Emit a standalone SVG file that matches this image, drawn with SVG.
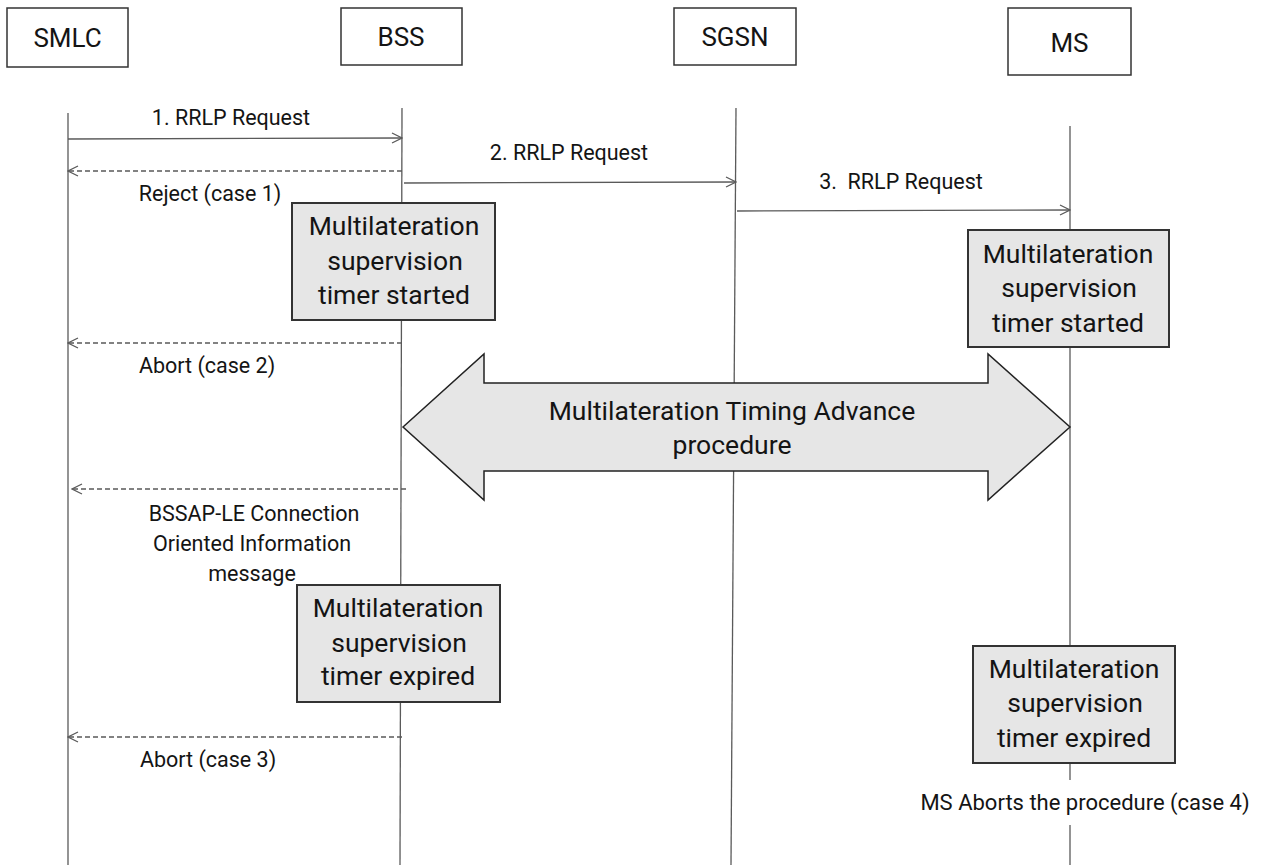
<svg xmlns="http://www.w3.org/2000/svg" width="1262" height="865" viewBox="0 0 1262 865">
<style>
text{font-family:Roboto,"Liberation Sans",sans-serif;fill:#141414;text-anchor:middle}
.hdr{font-size:26px}
.lbl{font-size:21.5px}
.box{font-size:26.5px}
.head{fill:#fff;stroke:#333;stroke-width:1.5}
.timer{fill:#e6e6e6;stroke:#333;stroke-width:2}
.life{stroke:#5a5a5a;stroke-width:1.3;fill:none}
.msg{stroke:#5a5a5a;stroke-width:1.3;fill:none;marker-end:url(#arr)}
.dash{stroke-dasharray:5,3}
</style>
<defs>
<marker id="arr" markerUnits="userSpaceOnUse" markerWidth="12" markerHeight="12" refX="11" refY="6" orient="auto">
<path d="M1,1 L11,6 L1,11" fill="none" stroke="#5a5a5a" stroke-width="1.3"/>
</marker>
</defs>
<rect width="1262" height="865" fill="#fff"/>

<g id="lifelines">
<line class="life" x1="68" y1="113" x2="68" y2="865"/>
<line class="life" x1="402" y1="108" x2="400" y2="865"/>
<line class="life" x1="736" y1="108" x2="731" y2="865"/>
<line class="life" x1="1070" y1="126" x2="1070" y2="780"/>
<line class="life" x1="1070" y1="825" x2="1070" y2="865"/>
</g>

<g id="SMLC"><rect class="head" x="7" y="8" width="121" height="59"/><text class="hdr" x="67.5" y="47">SMLC</text></g>
<g id="BSS"><rect class="head" x="341" y="8" width="121" height="57"/><text class="hdr" x="401" y="46">BSS</text></g>
<g id="SGSN"><rect class="head" x="674" y="8" width="122" height="57"/><text class="hdr" x="735" y="46">SGSN</text></g>
<g id="MS"><rect class="head" x="1008" y="8" width="123" height="67"/><text class="hdr" x="1069.5" y="52">MS</text></g>

<g id="connectors">
<line class="msg" x1="68" y1="139" x2="402" y2="138"/>
<line class="msg dash" x1="402" y1="171" x2="68" y2="171"/>
<line class="msg" x1="404" y1="183" x2="736" y2="182"/>
<line class="msg" x1="737" y1="211" x2="1070" y2="210"/>
<line class="msg dash" x1="402" y1="343" x2="68" y2="343"/>
<line class="msg dash" x1="406" y1="489" x2="72" y2="489"/>
<line class="msg dash" x1="402" y1="737" x2="68" y2="737"/>
</g>

<g id="labels">
<text class="lbl" x="231" y="125">1. RRLP Request</text>
<text class="lbl" x="210" y="201">Reject (case 1)</text>
<text class="lbl" x="569" y="160">2. RRLP Request</text>
<text class="lbl" x="901" y="189" style="white-space:pre">3.  RRLP Request</text>
<text class="lbl" x="207" y="373">Abort (case 2)</text>
<text class="lbl" x="254" y="521">BSSAP-LE Connection</text>
<text class="lbl" x="252" y="551">Oriented Information</text>
<text class="lbl" x="252" y="581">message</text>
<text class="lbl" x="208" y="767">Abort (case 3)</text>
<text class="lbl" x="1085" y="810" style="font-size:22px">MS Aborts the procedure (case 4)</text>
</g>

<g id="bss-timer-started">
<rect class="timer" x="292" y="203" width="203" height="117"/>
<text class="box" x="394" y="235">Multilateration</text>
<text class="box" x="395" y="270">supervision</text>
<text class="box" x="394" y="304">timer started</text>
</g>

<g id="ms-timer-started">
<rect class="timer" x="968" y="230" width="201" height="117"/>
<text class="box" x="1068" y="263">Multilateration</text>
<text class="box" x="1069" y="297">supervision</text>
<text class="box" x="1068" y="332">timer started</text>
</g>

<g id="ta-procedure">
<polygon points="403,427 484,354 484,383 988,383 988,354 1070,427 988,500 988,471 484,471 484,500" fill="#e6e6e6" stroke="#222" stroke-width="1.5" stroke-linejoin="miter"/>
<text class="box" x="732" y="420">Multilateration Timing Advance</text>
<text class="box" x="732" y="454">procedure</text>
</g>

<g id="bss-timer-expired">
<rect class="timer" x="297" y="585" width="203" height="117"/>
<text class="box" x="398" y="617">Multilateration</text>
<text class="box" x="399" y="652">supervision</text>
<text class="box" x="398" y="685">timer expired</text>
</g>

<g id="ms-timer-expired">
<rect class="timer" x="973" y="646" width="202" height="117"/>
<text class="box" x="1074" y="678">Multilateration</text>
<text class="box" x="1075" y="712">supervision</text>
<text class="box" x="1074" y="747">timer expired</text>
</g>
</svg>
